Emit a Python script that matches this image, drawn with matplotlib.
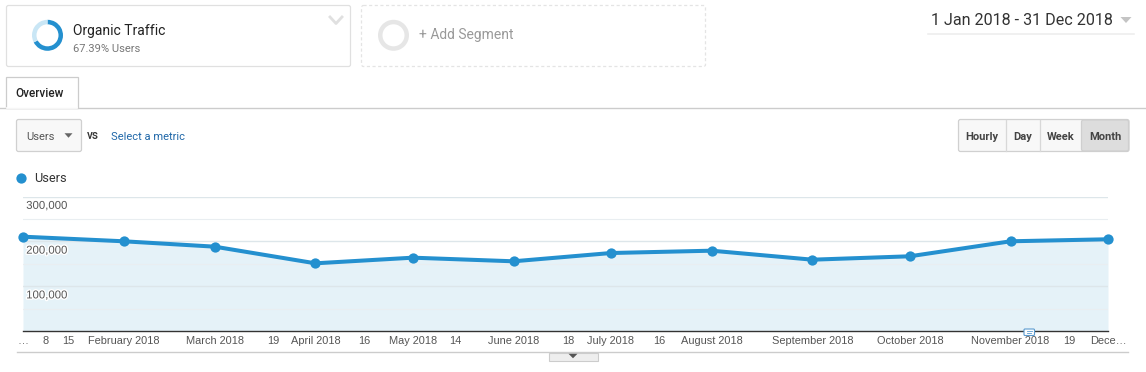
import matplotlib
matplotlib.use("Agg")
import matplotlib.pyplot as plt
import matplotlib.patheffects as pe
import pandas as pd
from matplotlib.patches import FancyBboxPatch, Rectangle, Polygon

plt.rcParams["font.family"] = ["Roboto", "DejaVu Sans"]

W, H = 1146, 372

month_dates = ["2018-01-01", "2018-02-01", "2018-03-01", "2018-04-01", "2018-05-01", "2018-06-01",
               "2018-07-01", "2018-08-01", "2018-09-01", "2018-10-01", "2018-11-01", "2018-12-01"]
users = [210700, 200400, 188400, 151200, 163800, 155700,
         174200, 179400, 159300, 166900, 200400, 204900]

tick_dates = ["2018-01-01", "2018-01-08", "2018-01-15", "2018-02-01", "2018-03-01", "2018-03-19",
              "2018-04-01", "2018-04-16", "2018-05-01", "2018-05-14", "2018-06-01", "2018-06-18",
              "2018-07-01", "2018-07-16", "2018-08-01", "2018-09-01", "2018-10-01", "2018-11-01",
              "2018-11-19", "2018-12-01"]
tick_labels = ["…", "8", "15", "February 2018", "March 2018", "19",
               "April 2018", "16", "May 2018", "14", "June 2018", "18",
               "July 2018", "16", "August 2018", "September 2018", "October 2018", "November 2018",
               "19", "Dece…"]
y_major = [100000, 200000, 300000]
y_minor = [50000, 150000, 250000]
segment_share = [67.39, 32.61]

BLUE = "#2490cf"
FILL = "#e5f2f8"
BORDER = "#e0e0e0"


def px_axes(x0, y0, x1, y1):
    # axes box given in image pixels, y measured from the top
    return [x0 / W, 1 - y1 / H, (x1 - x0) / W, (y1 - y0) / H]


def box(ax, x0, y0, x1, y1, fc="white", ec=BORDER, ls="-", rad=2, lw=0.9):
    ax.add_patch(FancyBboxPatch((x0, y0), x1 - x0, y1 - y0, boxstyle=f"round,pad=0,rounding_size={rad}",
                                fc=fc, ec=ec, ls=ls, lw=lw))


def tri(ax, cx, cy, w, h, color, up=False):
    s = -1 if up else 1
    ax.add_patch(Polygon([(cx - w / 2, cy - s * h / 2), (cx + w / 2, cy - s * h / 2), (cx, cy + s * h / 2)],
                         fc=color, ec="none"))


fig = plt.figure(figsize=(W / 100, H / 100), dpi=100, facecolor="white")

# page furniture, drawn in pixel coordinates
ui = fig.add_axes([0, 0, 1, 1])
ui.set_xlim(0, W)
ui.set_ylim(H, 0)
ui.axis("off")

box(ui, 6.5, 5.5, 350.5, 66.5)
box(ui, 361.5, 5.5, 705.5, 66.5, ls=(0, (2.5, 2)), ec="#e4e4e4")
ui.plot([330, 336, 342], [17, 23.5, 17], color="#e0e0e0", lw=2)

ui.text(73, 30.5, "Organic Traffic", fontsize=10, color="#222222", va="center")
ui.text(73, 48.5, "67.39% Users", fontsize=8, color="#777777", va="center")
ui.text(419, 35.5, "+ Add Segment", fontsize=10, color="#999999", va="center")

# date picker
ui.text(931, 20.5, "1 Jan 2018 - 31 Dec 2018", fontsize=11.6, color="#333333", va="center")
tri(ui, 1126, 20, 11, 6, "#c4c4c4")
ui.plot([928, 1134], [33.7, 33.7], color="#eeeeee", lw=1.2)

# tab row
ui.plot([0, W], [108, 108], color="#cccccc", lw=1)
ui.add_patch(Rectangle((6, 77), 72, 31, fc="white", ec="#cccccc", lw=0.9, zorder=3))
ui.plot([7, 77], [108, 108], color="white", lw=1.2, zorder=4)
ui.text(15, 93.5, "Overview", fontsize=8.5, fontweight="medium", color="#222222", va="center", zorder=5)

# metric selector
box(ui, 16.5, 119.5, 81.5, 151.5, fc="#f8f8f8", ec="#d0d0d0")
ui.text(26, 136.5, "Users", fontsize=8, color="#555555", va="center")
tri(ui, 68.5, 135.5, 8, 4.5, "#666666")
ui.text(87, 135.5, "vs", fontsize=8.6, fontweight="medium", color="#333333", va="center")
ui.text(111, 136.5, "Select a metric", fontsize=8, color="#1f67a8", va="center")

# granularity buttons
box(ui, 958.5, 119.5, 1129, 151.5, fc="#f8f8f8", ec="#d0d0d0")
box(ui, 1081.5, 120, 1128.5, 151, fc="#dddddd", ec="#cfcfcf")
for x in [1005.5, 1039.5]:
    ui.plot([x, x], [120, 151], color="#d8d8d8", lw=0.9)
for label, x in zip(["Hourly", "Day", "Week", "Month"], [981.5, 1022.5, 1060.5, 1105]):
    ui.text(x, 136.5, label, fontsize=8, fontweight="bold", color="#444444", ha="center", va="center")

# legend
ui.plot([21], [178], "o", color=BLUE, ms=7.4, mew=0)
ui.text(34, 178.5, "Users", fontsize=9.2, color="#333333", va="center")

# footer
ui.plot([17, 1128], [352.3, 352.3], color="#cccccc", lw=1)
ui.add_patch(Rectangle((548.5, 352.5), 49, 8, fc="#eeeeee", ec="#cccccc", lw=0.8))
tri(ui, 573, 356, 9, 4.5, "#555555")

# segment donut
donut = fig.add_axes(px_axes(32, 19.8, 63, 50.8))
donut.pie(segment_share, colors=[BLUE, "#c9e6f5"], startangle=90, counterclock=False, radius=1.0,
          wedgeprops={"width": 0.29, "linewidth": 0})
donut.set_xlim(-1, 1)
donut.set_ylim(-1, 1)
ring = fig.add_axes(px_axes(378, 19.8, 409, 50.8))
ring.pie([1], colors=["#e6e6e6"], radius=1.0, wedgeprops={"width": 0.29, "linewidth": 0})
ring.set_xlim(-1, 1)
ring.set_ylim(-1, 1)

# main chart
ax = fig.add_axes(px_axes(23, 196.7, 1108, 331))
ax.patch.set_alpha(0)
dates = pd.to_datetime(month_dates)
ax.fill_between(dates, users, 0, color=FILL, lw=0, zorder=1)
ax.set_yticks(y_major)
ax.set_yticks(y_minor, minor=True)
ax.grid(True, axis="y", which="major", color="#dde6ea", lw=1, zorder=2)
ax.grid(True, axis="y", which="minor", color="#e9eef1", lw=0.8, zorder=2)
ax.set_axisbelow(False)
ax.plot(dates, users, color=BLUE, lw=2.9, marker="o", ms=7.4, mew=0, clip_on=False, zorder=4,
        solid_capstyle="round")

ax.set_xlim(dates[0], dates[-1])
ax.set_ylim(0, 300000)
for name in ["top", "left", "right"]:
    ax.spines[name].set_visible(False)
ax.spines["bottom"].set_color("#333333")
ax.spines["bottom"].set_linewidth(1)
ax.tick_params(axis="both", which="both", length=0)
ax.set_yticklabels([])
ax.set_xticks(pd.to_datetime(tick_dates))
ax.set_xticklabels(tick_labels, fontsize=7.9, color="#555555", family=["Liberation Sans", "DejaVu Sans"])
ax.tick_params(axis="x", pad=3.5)

for v in y_major:
    ax.annotate(f"{v:,}", xy=(0, v), xycoords=ax.get_yaxis_transform(), xytext=(2.3, -6.6), textcoords="offset points",
                fontsize=8.2, color="#555555", family=["Liberation Sans", "DejaVu Sans"], va="center", zorder=3,
                path_effects=[pe.withStroke(linewidth=2, foreground="white")])

# annotation marker on the axis
ui2 = fig.add_axes([0, 0, 1, 1], zorder=5)
ui2.set_xlim(0, W)
ui2.set_ylim(H, 0)
ui2.axis("off")
box(ui2, 1024, 329, 1034.5, 335.5, fc="white", ec="#5b9bd0", rad=1, lw=0.8)
ui2.plot([1026.5, 1032], [331.3, 331.3], color="#5b9bd0", lw=0.6)
ui2.plot([1026.5, 1030.5], [333.3, 333.3], color="#5b9bd0", lw=0.6)

fig.savefig("out.png", dpi=100)
plt.close()
